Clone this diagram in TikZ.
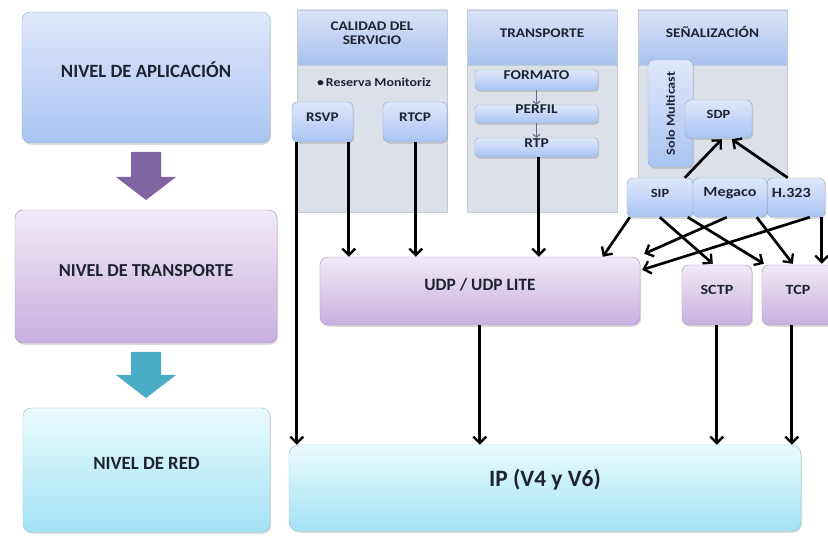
\documentclass[tikz,border=0pt]{standalone}
\usepackage{fontspec}
\setmainfont{Carlito}
\newfontfamily\widefont[FakeStretch=1.15]{Carlito}
\usetikzlibrary{arrows.meta,shadows,calc,fit}

\definecolor{ink}{HTML}{1E2332}
\definecolor{bluetop}{HTML}{DFE8FB}
\definecolor{bluebot}{HTML}{A9C4F2}
\definecolor{blueedge}{HTML}{9AAFD0}
\definecolor{purptop}{HTML}{F1EAF7}
\definecolor{purpbot}{HTML}{C8AFE0}
\definecolor{purpedge}{HTML}{A895BE}
\definecolor{cyantop}{HTML}{EAFBFE}
\definecolor{cyanbot}{HTML}{A3E2F5}
\definecolor{cyanedge}{HTML}{97C6D6}
\definecolor{panelfill}{HTML}{DCE1E9}
\definecolor{paneledge}{HTML}{C3CAD6}
\definecolor{headtop}{HTML}{D9E4F8}
\definecolor{headbot}{HTML}{A8C1EE}
\definecolor{blockpurple}{HTML}{8064A2}
\definecolor{blockteal}{HTML}{4BACC6}
\definecolor{tinyarrow}{HTML}{5E6C88}

\newcommand\sz[1]{\fontsize{#1}{#1}\selectfont}

\tikzset{
  softshadow/.style={drop shadow={opacity=0.28,shadow xshift=1pt,shadow yshift=-1.5pt}},
  rbox/.style={rounded corners=#1, inner sep=0pt, softshadow, text=ink},
  bluebox/.style={rbox=#1, draw=blueedge, top color=bluetop, bottom color=bluebot},
  purpbox/.style={rbox=#1, draw=purpedge, top color=purptop, bottom color=purpbot},
  cyanbox/.style={rbox=#1, draw=cyanedge, top color=cyantop, bottom color=cyanbot},
  panel/.style={draw=paneledge, fill=panelfill, inner sep=0pt},
  header/.style={draw=paneledge, top color=headtop, bottom color=headbot, inner sep=0pt,
    text=ink, font=\widefont\bfseries\sz{11.3}, align=center},
  bigtext/.style={font=\bfseries\sz{#1}},
  smalltext/.style={font=\widefont\bfseries\sz{#1}},
  conn/.style={draw=black, line width=2.3pt,
    -{Straight Barb[length=5.5pt,width=11pt,line width=2pt]}},
  tinyconn/.style={draw=tinyarrow, line width=0.9pt,
    -{Straight Barb[length=2.5pt,width=6pt,line width=0.9pt]}},
}

\begin{document}
\begin{tikzpicture}[x=0.03cm,y=-0.03cm]
\clip (0,0) rectangle (828,539);
\fill[white] (0,0) rectangle (828,539);

% ---------- left column: the three levels ----------
\node[bluebox=7pt, fit={(22,12)(270,143)}, bigtext=16] (app) {NIVEL DE APLICACIÓN};
\node[purpbox=7pt, fit={(15,210)(277,343)}, bigtext=15.6] (trans) {NIVEL DE TRANSPORTE};
\node[cyanbox=7pt, fit={(23,408)(270,532)}, bigtext=16] (red) {NIVEL DE RED};

\fill[blockpurple] (131,152) -- (161,152) -- (161,177) -- (176,177) -- (146,200) -- (116,177) -- (131,177) -- cycle;
\fill[blockteal] (131,352) -- (161,352) -- (161,375) -- (176,375) -- (146,398) -- (116,375) -- (131,375) -- cycle;

% ---------- application panels ----------
\node[panel, fit={(297,10)(447,212)}] (qospanel) {};
\node[header, fit={(297,10)(447,65)}] (qoshead) {CALIDAD DEL\\[1pt]SERVICIO};
\node[text=ink, smalltext=10.3] (qosnote) at (374,82) {\textbullet\,Reserva Monitoriz};

\node[panel, fit={(467,10)(617,212)}] (rtppanel) {};
\node[header, fit={(467,10)(617,65)}] (rtphead) {TRANSPORTE};

\node[panel, fit={(638,10)(787,200)}] (sigpanel) {};
\node[header, fit={(638,10)(787,65)}] (sighead) {SEÑALIZACIÓN};

% quality of service protocols
\node[bluebox=5pt, fit={(292,102)(353,142)}, smalltext=11.3] (rsvp) {RSVP};
\node[bluebox=5pt, fit={(383,102)(447,142)}, smalltext=11.3] (rtcp) {RTCP};

% media transport stack
\node[bluebox=3pt, fit={(475,70)(598,90)}, smalltext=11.5] (fmt) {FORMATO};
\node[bluebox=3pt, fit={(475,105)(598,123)}, smalltext=11.5] (prf) {PERFIL};
\node[bluebox=3pt, fit={(475,138)(598,157)}, smalltext=11.5] (rtp) {RTP};
\draw[tinyconn] (fmt) -- (prf);
\draw[tinyconn] (prf) -- (rtp);

% signalling
\node[bluebox=5pt, fit={(648,60)(693,167)}] (multi) {};
\node[rotate=90, text=ink, smalltext=10.5] (multitxt) at (multi.center) {Solo Multicast};
\node[bluebox=5pt, fit={(685,100)(752,138)}, smalltext=10.7] (sdp) {SDP};
\node[bluebox=5pt, fit={(767,178)(825,217)}, smalltext=12] (h323) {\hspace*{-8pt}H.323};
\node[bluebox=5pt, fit={(627,178)(693,217)}, smalltext=10.7] (sip) {SIP};
\node[bluebox=5pt, fit={(693,178)(767,217)}, smalltext=12] (megaco) {Megaco};

% ---------- transport and network boxes ----------
\node[purpbox=7pt, fit={(320,257)(640,325)}, bigtext=14.8] (udp) {UDP / UDP LITE};
\node[purpbox=6pt, fit={(682,265)(752,325)}, smalltext=12] (sctp) {SCTP};
\node[purpbox=6pt, fit={(762,265)(834,325)}, smalltext=12] (tcp) {TCP};
\node[cyanbox=8pt, fit={(289,445)(801,531)}, bigtext=20] (ip) {IP (V4 y V6)};

% ---------- connectors ----------
\coordinate (rsvpL) at ($(rsvp.south west)+(5,0)$);
\coordinate (rsvpR) at ($(rsvp.south west)+(57,0)$);
\coordinate (rtcpM) at ($(rtcp.south west)+(33,0)$);
\coordinate (rtpM)  at ($(rtp.south west)+(64,0)$);
\draw[conn] (rsvpL) -- (rsvpL |- ip.north);
\draw[conn] (rsvpR) -- (rsvpR |- udp.north);
\draw[conn] (rtcpM) -- (rtcpM |- udp.north);
\draw[conn] (rtpM) -- (rtpM |- udp.north);

\coordinate (udpM)  at ($(udp.south west)+(160,0)$);
\coordinate (sctpM) at ($(sctp.south west)+(35,0)$);
\coordinate (tcpM)  at ($(tcp.south west)+(30,0)$);
\draw[conn] (udpM) -- (udpM |- ip.north);
\draw[conn] (sctpM) -- (sctpM |- ip.north);
\draw[conn] (tcpM) -- (tcpM |- ip.north);

% signalling protocols towards SDP
\draw[conn] ($(sip.north west)+(58,0)$) -- ($(sdp.south west)+(37,1)$);
\draw[conn] ($(h323.north west)+(21,0)$) -- ($(sdp.south west)+(47,1)$);

% signalling protocols towards the transport layer
\draw[conn] ($(sip.south west)+(3,0)$) -- ($(udp.north west)+(283,0)$);
\draw[conn] ($(sip.south west)+(33,0)$) -- ($(sctp.north west)+(31,-1)$);
\draw[conn] ($(sip.south west)+(61,0)$) -- ($(tcp.north west)+(2,-1)$);
\draw[conn] ($(megaco.south west)+(34,0)$) -- ($(udp.north east)+(4,-3)$);
\draw[conn] ($(megaco.south west)+(64,0)$) -- ($(tcp.north west)+(31,-1)$);
\draw[conn] ($(h323.south west)+(43,0)$) -- ($(udp.north east)+(2,13)$);
\draw[conn] ($(h323.south west)+(55,0)$) -- ($(tcp.north west)+(60,-1)$);
\end{tikzpicture}
\end{document}
